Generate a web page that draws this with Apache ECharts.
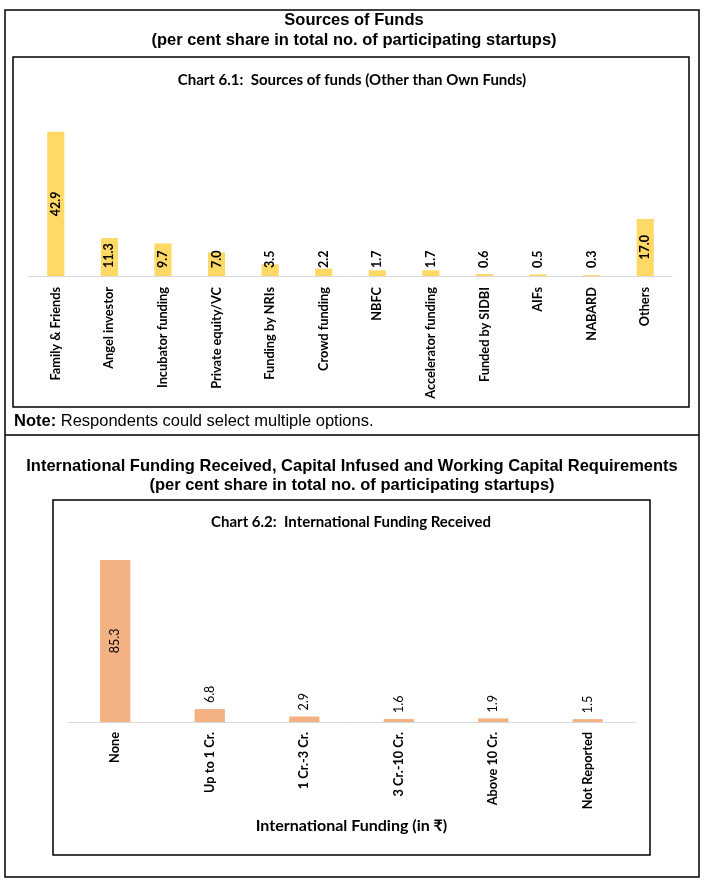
<!DOCTYPE html>
<html><head><meta charset="utf-8">
<script src="https://cdn.jsdelivr.net/npm/echarts@6/dist/echarts.min.js"></script>
<style>html,body{margin:0;padding:0;background:#fff}#c{width:709px;height:889px}</style>
</head><body><div id="c"></div>
<script>
const fundCategories = ['Family & Friends','Angel investor','Incubator funding','Private equity/VC','Funding by NRIs','Crowd funding','NBFC','Accelerator funding','Funded by SIDBI','AIFs','NABARD','Others'];
const fundValues = [42.9, 11.3, 9.7, 7.0, 3.5, 2.2, 1.7, 1.7, 0.6, 0.5, 0.3, 17.0];
const intlCategories = ['None','Up to 1 Cr.','1 Cr.-3 Cr.','3 Cr.-10 Cr.','Above 10 Cr.','Not Reported'];
const intlValues = [85.3, 6.8, 2.9, 1.6, 1.9, 1.5];

const CAL = 'Lato, "Open Sans", sans-serif';
const ARIAL = 'Arial, "Liberation Sans", sans-serif';

const chart = echarts.init(document.getElementById('c'), null, {renderer: 'canvas'});

function fundData() {
  return fundValues.map(v => {
    const big = v > 15;
    return {
      value: v,
      label: big
        ? {position: 'inside', rotate: 90, align: 'center', verticalAlign: 'middle'}
        : {position: 'insideBottom', rotate: 90, align: 'left', verticalAlign: 'middle', distance: 8}
    };
  });
}
function intlData() {
  return intlValues.map(v => {
    const big = v > 50;
    return {
      value: v,
      label: big
        ? {position: 'inside', rotate: 90, align: 'center', verticalAlign: 'middle'}
        : {position: 'top', rotate: 90, align: 'left', verticalAlign: 'middle', distance: 6}
    };
  });
}

const boxes = [
  {x: 5, y: 10, w: 694, h: 867},
  {x: 13, y: 57, w: 676, h: 350},
  {x: 53, y: 500, w: 597, h: 355}
];

const graphics = boxes.map(b => ({
  type: 'rect', silent: true,
  shape: {x: b.x, y: b.y, width: b.w, height: b.h},
  style: {fill: 'none', stroke: '#000', lineWidth: 1.5}
}));
graphics.push({type: 'line', silent: true, shape: {x1: 5, y1: 435, x2: 699, y2: 435}, style: {stroke: '#000', lineWidth: 1.5}});

function txt(text, x, y, font, align) {
  return {type: 'text', silent: true, style: {text: text, x: x, y: y, font: font, textAlign: align || 'center', textVerticalAlign: 'middle', fill: '#000'}};
}
const HEAD = 'bold 16.5px ' + ARIAL;
graphics.push(txt('Sources of Funds', 354, 20, HEAD));
graphics.push(txt('(per cent share in total no. of participating startups)', 354, 40, HEAD));
graphics.push(txt('Chart 6.1:  Sources of funds (Other than Own Funds)', 352, 80, 'bold 15px ' + CAL));
graphics.push({type: 'text', silent: true, style: {
  text: '{b|Note:} Respondents could select multiple options.', x: 14, y: 421,
  font: '16.5px ' + ARIAL, textAlign: 'left', textVerticalAlign: 'middle', fill: '#000',
  rich: {b: {font: 'bold 16.5px ' + ARIAL, fill: '#000'}}
}});
graphics.push(txt('International Funding Received, Capital Infused and Working Capital Requirements', 352, 466, HEAD));
graphics.push(txt('(per cent share in total no. of participating startups)', 352, 485, HEAD));
graphics.push(txt('Chart 6.2:  International Funding Received', 351, 522, 'bold 15px ' + CAL));

const axisLabelStyle = {rotate: 90, interval: 0, fontFamily: CAL, fontWeight: 'bold', fontSize: 12.75, color: '#000'};

chart.setOption({
  animation: false,
  backgroundColor: '#fff',
  graphic: graphics,
  grid: [
    {left: 29, width: 643, top: 108, height: 168, containLabel: false},
    {left: 68, width: 567, top: 551, height: 171, containLabel: false}
  ],
  xAxis: [
    {type: 'category', gridIndex: 0, data: fundCategories,
     axisLine: {lineStyle: {color: '#d9d9d9', width: 1}}, axisTick: {show: false},
     axisLabel: Object.assign({margin: 11}, axisLabelStyle)},
    {type: 'category', gridIndex: 1, data: intlCategories,
     axisLine: {lineStyle: {color: '#d9d9d9', width: 1}}, axisTick: {show: false},
     axisLabel: Object.assign({margin: 10}, axisLabelStyle),
     name: 'International Funding (in \u20B9)', nameLocation: 'middle', nameGap: 96,
     nameTextStyle: {fontFamily: CAL + ', "DejaVu Sans", "Noto Sans"', fontWeight: 'bold', fontSize: 16, color: '#000'}}
  ],
  yAxis: [
    {type: 'value', gridIndex: 0, min: 0, max: 50, show: false},
    {type: 'value', gridIndex: 1, min: 0, max: 90, show: false}
  ],
  series: [
    {type: 'bar', xAxisIndex: 0, yAxisIndex: 0, data: fundData(), barWidth: '32%',
     itemStyle: {color: '#FFD966'},
     label: {show: true, formatter: p => p.value.toFixed(1), fontFamily: CAL, fontWeight: 'bold', fontSize: 12.5, color: '#000'}},
    {type: 'bar', xAxisIndex: 1, yAxisIndex: 1, data: intlData(), barWidth: '32%',
     itemStyle: {color: '#F4B183'},
     label: {show: true, formatter: p => p.value.toFixed(1), fontFamily: CAL, fontWeight: 'normal', fontSize: 12.5, color: '#000'}}
  ]
});
</script>
</body></html>
